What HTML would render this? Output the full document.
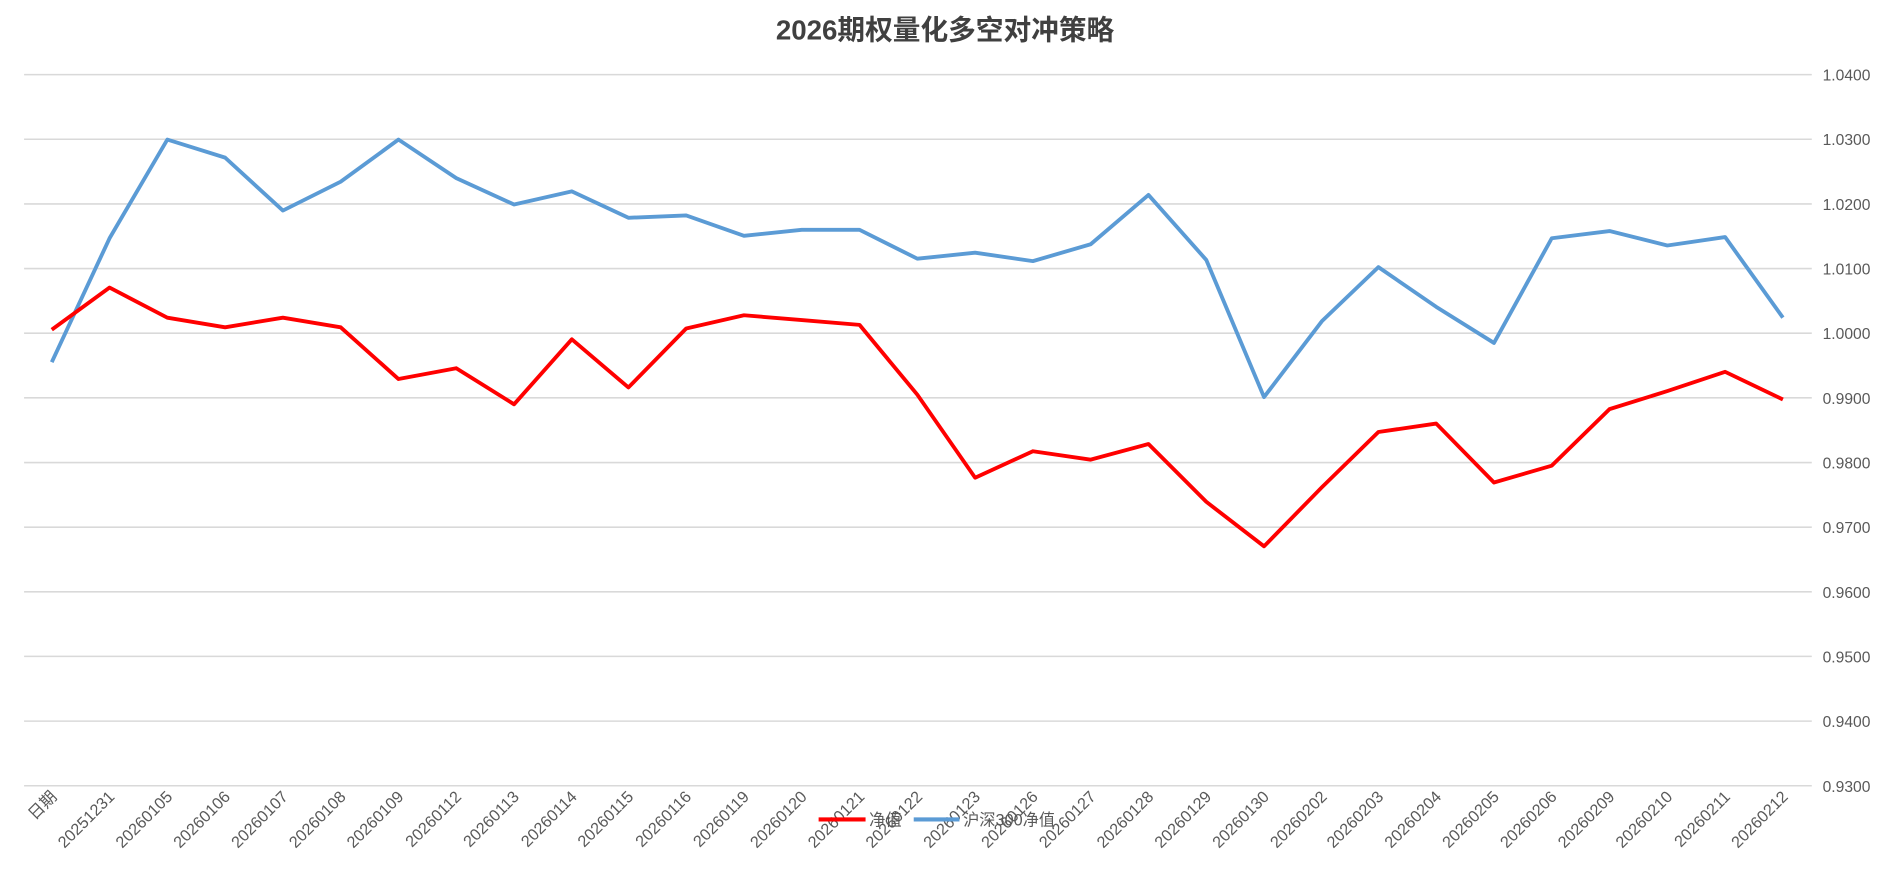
<!DOCTYPE html>
<html><head><meta charset="utf-8"><style>html,body{margin:0;padding:0;background:#fff;overflow:hidden}</style></head>
<body>
<svg width="1878" height="876" viewBox="0 0 1560 728" preserveAspectRatio="none" xmlns="http://www.w3.org/2000/svg" font-family="Liberation Sans, Noto Sans CJK SC, sans-serif">
<rect width="1560" height="728" fill="#fff"/>
<text x="785" y="33" text-anchor="middle" font-size="23" font-weight="bold" fill="#404040" font-family="Liberation Sans, Noto Sans CJK SC, sans-serif">2026期权量化多空对冲策略</text>
<g stroke="#d9d9d9" stroke-width="1.3">
<line x1="20" x2="1505" y1="62" y2="62"/><line x1="20" x2="1505" y1="115.7" y2="115.7"/><line x1="20" x2="1505" y1="169.5" y2="169.5"/><line x1="20" x2="1505" y1="223.2" y2="223.2"/><line x1="20" x2="1505" y1="276.9" y2="276.9"/><line x1="20" x2="1505" y1="330.6" y2="330.6"/><line x1="20" x2="1505" y1="384.4" y2="384.4"/><line x1="20" x2="1505" y1="438.1" y2="438.1"/><line x1="20" x2="1505" y1="491.8" y2="491.8"/><line x1="20" x2="1505" y1="545.5" y2="545.5"/><line x1="20" x2="1505" y1="599.3" y2="599.3"/><line x1="20" x2="1505" y1="653" y2="653"/>
</g>
<g font-size="13" fill="#595959">
<text x="1514" y="67">1.0400</text><text x="1514" y="120.7">1.0300</text><text x="1514" y="174.5">1.0200</text><text x="1514" y="228.2">1.0100</text><text x="1514" y="281.9">1.0000</text><text x="1514" y="335.6">0.9900</text><text x="1514" y="389.4">0.9800</text><text x="1514" y="443.1">0.9700</text><text x="1514" y="496.8">0.9600</text><text x="1514" y="550.5">0.9500</text><text x="1514" y="604.3">0.9400</text><text x="1514" y="658">0.9300</text>
</g>
<polyline fill="none" stroke="#5b9bd5" stroke-width="3.2" stroke-linejoin="round" points="43,301 91,198 139,116 187,131 235,175 283,151 331,116 379,148 427,170 475,159 522,181 570,179 618,196 666,191 714,191 762,215 810,210 858,217 906,203 954,162 1002,216 1050,330 1098,267 1145,222 1193,255 1241,285 1289,198 1337,192 1385,204 1433,197 1481,264"/>
<polyline fill="none" stroke="#ff0000" stroke-width="3.2" stroke-linejoin="round" points="43,274 91,239 139,264 187,272 235,264 283,272 331,315 379,306 427,336 475,282 522,322 570,273 618,262 666,266 714,270 762,328 810,397 858,375 906,382 954,369 1002,417 1050,454 1098,405 1145,359 1193,352 1241,401 1289,387 1337,340 1385,325 1433,309 1481,332"/>
<g font-size="13.5" fill="#595959" text-anchor="end">
<text transform="translate(48,663) rotate(-45)">日期</text>
<text transform="translate(96,663) rotate(-45)">20251231</text>
<text transform="translate(144,663) rotate(-45)">20260105</text>
<text transform="translate(192,663) rotate(-45)">20260106</text>
<text transform="translate(240,663) rotate(-45)">20260107</text>
<text transform="translate(288,663) rotate(-45)">20260108</text>
<text transform="translate(336,663) rotate(-45)">20260109</text>
<text transform="translate(384,663) rotate(-45)">20260112</text>
<text transform="translate(432,663) rotate(-45)">20260113</text>
<text transform="translate(480,663) rotate(-45)">20260114</text>
<text transform="translate(527,663) rotate(-45)">20260115</text>
<text transform="translate(575,663) rotate(-45)">20260116</text>
<text transform="translate(623,663) rotate(-45)">20260119</text>
<text transform="translate(671,663) rotate(-45)">20260120</text>
<text transform="translate(719,663) rotate(-45)">20260121</text>
<text transform="translate(767,663) rotate(-45)">20260122</text>
<text transform="translate(815,663) rotate(-45)">20260123</text>
<text transform="translate(863,663) rotate(-45)">20260126</text>
<text transform="translate(911,663) rotate(-45)">20260127</text>
<text transform="translate(959,663) rotate(-45)">20260128</text>
<text transform="translate(1007,663) rotate(-45)">20260129</text>
<text transform="translate(1055,663) rotate(-45)">20260130</text>
<text transform="translate(1103,663) rotate(-45)">20260202</text>
<text transform="translate(1150,663) rotate(-45)">20260203</text>
<text transform="translate(1198,663) rotate(-45)">20260204</text>
<text transform="translate(1246,663) rotate(-45)">20260205</text>
<text transform="translate(1294,663) rotate(-45)">20260206</text>
<text transform="translate(1342,663) rotate(-45)">20260209</text>
<text transform="translate(1390,663) rotate(-45)">20260210</text>
<text transform="translate(1438,663) rotate(-45)">20260211</text>
<text transform="translate(1486,663) rotate(-45)">20260212</text>
</g>
<line x1="680" x2="719" y1="681" y2="681" stroke="#ff0000" stroke-width="3.5"/>
<text x="722" y="686" font-size="13.5" fill="#595959">净值</text>
<line x1="759" x2="797" y1="681" y2="681" stroke="#5b9bd5" stroke-width="3.5"/>
<text x="800" y="686" font-size="13.5" fill="#595959">沪深300净值</text>
</svg>
</body></html>
